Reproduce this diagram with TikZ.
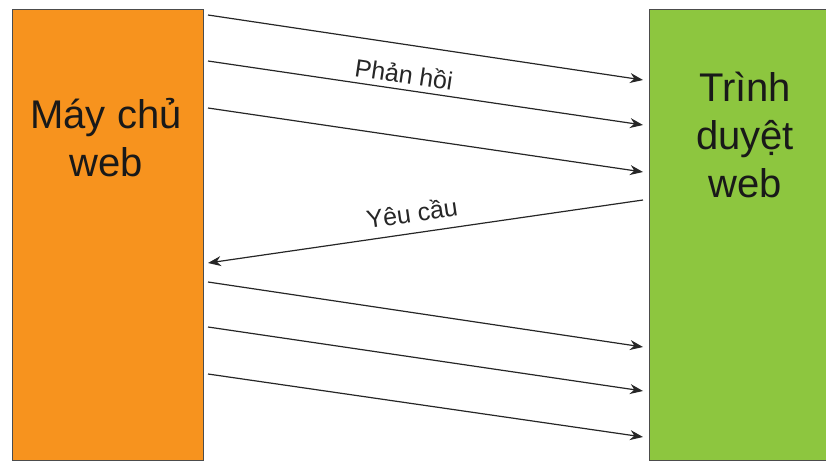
\documentclass[tikz,border=0pt]{standalone}
\usepackage{fontspec}
\setmainfont{Liberation Sans}
\usetikzlibrary{arrows.meta}
\definecolor{srvorange}{HTML}{F7931E}
\definecolor{brwgreen}{HTML}{8DC63F}
\tikzset{
  box/.style={draw=black!70, line width=1pt, inner sep=0pt, anchor=north west},
  bigtext/.style={font=\fontsize{40}{48}\selectfont, align=center, text=black!90},
  lbl/.style={font=\fontsize{25}{28}\selectfont, text=black!85},
  msg/.style={draw=black!85, line width=1.2pt, -{Stealth[length=13pt,width=10pt]}}
}
\begin{document}
\begin{tikzpicture}[x=1pt,y=-1pt]
\useasboundingbox (0,0) rectangle (826,462);
\node[box, fill=srvorange, minimum width=191pt, minimum height=451pt] (srv) at (12,9) {};
\node[box, fill=brwgreen, minimum width=180pt, minimum height=451pt] (brw) at (649,9) {};
\node[bigtext] (srvtxt) at (106,138) {Máy chủ\\web};
\node[bigtext] (brwtxt) at (745,135) {Trình\\duyệt\\web};
% left start points and right end points
\foreach \n/\ys/\ye in {a/6/71, b/52/116, c/99/163, d/273/338, e/318/382, f/365/428} {
  \coordinate (s\n) at ([xshift=4pt,yshift=-\ys pt]srv.north east);
  \coordinate (t\n) at ([xshift=-6pt,yshift=-\ye pt]brw.north west);
  \draw[msg] (s\n) -- (t\n);
}
\coordinate (req1) at ([xshift=-6pt,yshift=-191pt]brw.north west);
\coordinate (req2) at ([xshift=4pt,yshift=-254pt]srv.north east);
\draw[msg] (req1) -- (req2);
\node[lbl, rotate=-8.5] (resp) at (404,74) {Phản hồi};
\node[lbl, rotate=8.2] (req) at (412,213) {Yêu cầu};
\end{tikzpicture}
\end{document}
